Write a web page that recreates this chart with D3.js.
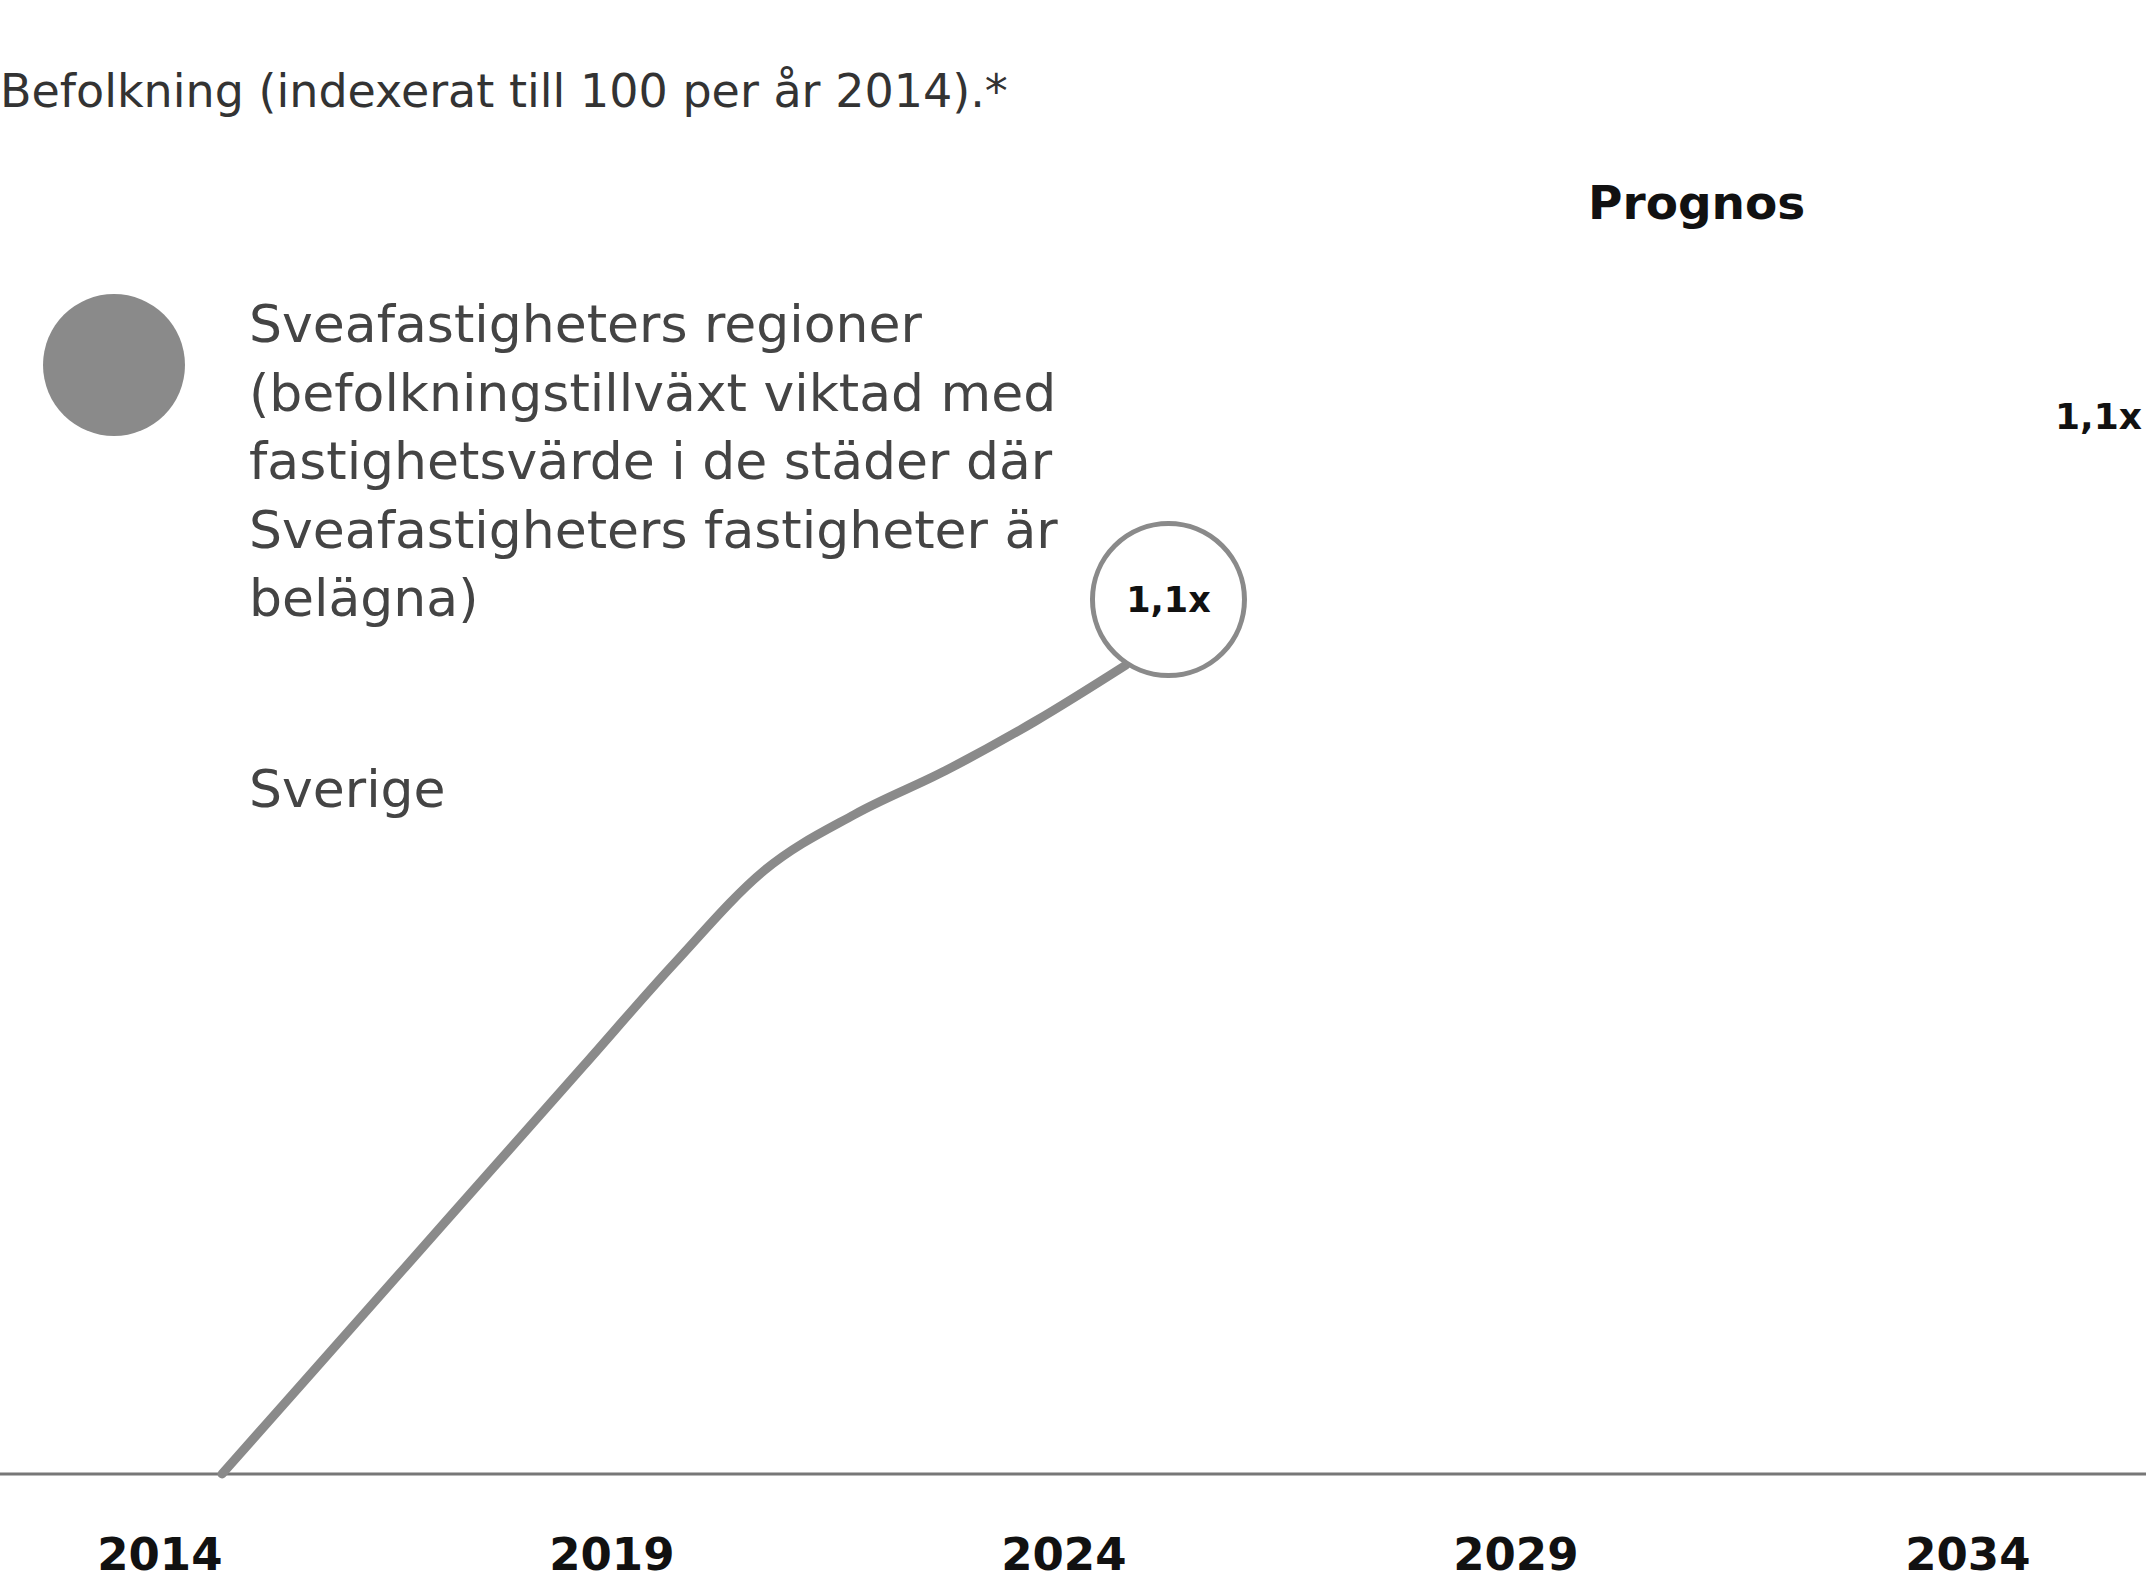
<!DOCTYPE html>
<html lang='sv'>

<head>
    <meta charset='UTF-8'/>
    <title>Befolkning indexerat till 100 per år 2014</title>
    <script src="https://cdn.jsdelivr.net/npm/d3@7"></script>
    <style>
        html,
        body {
            margin: 0;
            height: 100%;
            width: 100%;
            background: white;
        }

        svg text {
            font-family: "DejaVu Sans", sans-serif;
        }
    </style>
</head>

<body>

<div id="container"></div>

<script>
    // data
    const years = [2014, 2015, 2016, 2017, 2018, 2019, 2020, 2021, 2022, 2023, 2024]
    const regionIndex = [100, 101.64, 103.28, 104.92, 106.56, 108.2, 109.7, 110.6, 111.3, 112.1, 113.0]
    const tickYears = [2014, 2019, 2024, 2029, 2034]
    const legendLines = [
        'Sveafastigheters regioner',
        '(befolkningstillväxt viktad med',
        'fastighetsvärde i de städer där',
        'Sveafastigheters fastigheter är',
        'belägna)'
    ]
    const subtitle = 'Befolkning (indexerat till 100 per år 2014).*'
    const secondSeriesName = 'Sverige'
    const forecastLabel = 'Prognos'
    const forecastStartYear = 2029
    const multipleLabel = '1,1x'
    const forecastEndValue = 117

    const width = 2146
    const height = 1582
    const grey = '#8a8a8a'

    const x = d3.scaleLinear().domain([2014, 2034]).range([222, 2030])
    const y = d3.scaleLinear().domain([100, 113]).range([1474, 665])

    const svg = d3.select('#container')
        .append('svg')
        .attr('width', width)
        .attr('height', height)

    svg.append('text')
        .attr('x', 0)
        .attr('y', 107)
        .attr('font-size', 46)
        .attr('fill', '#333')
        .text(subtitle)

    svg.append('text')
        .attr('x', x(forecastStartYear) + 10)
        .attr('y', 219)
        .attr('font-size', 47)
        .attr('font-weight', 'bold')
        .attr('fill', '#111')
        .text(forecastLabel)

    // legend
    svg.append('circle')
        .attr('cx', 114)
        .attr('cy', 365)
        .attr('r', 71)
        .attr('fill', grey)

    svg.append('g')
        .selectAll('text')
        .data(legendLines)
        .join('text')
        .attr('x', 249)
        .attr('y', (d, i) => 342 + i * 68.5)
        .attr('font-size', 52)
        .attr('fill', '#444')
        .text(d => d)

    svg.append('text')
        .attr('x', 249)
        .attr('y', 807)
        .attr('font-size', 52)
        .attr('fill', '#444')
        .text(secondSeriesName)

    // baseline across the whole width
    svg.append('line')
        .attr('x1', 0)
        .attr('x2', width)
        .attr('y1', y(100))
        .attr('y2', y(100))
        .attr('stroke', '#777')
        .attr('stroke-width', 3)

    const axis = svg.append('g')
        .attr('transform', `translate(0,${y(100)})`)
        .call(d3.axisBottom(x).tickValues(tickYears).tickFormat(d3.format('d')).tickSize(0))

    axis.select('.domain').remove()
    axis.selectAll('text')
        .attr('y', 96)
        .attr('dy', null)
        .attr('text-anchor', 'end')
        .attr('font-size', 45)
        .attr('font-weight', 'bold')
        .attr('font-family', '"DejaVu Sans", sans-serif')
        .attr('fill', '#111')

    const points = years.map((year, i) => ({year, value: regionIndex[i]}))

    const line = d3.line()
        .x(d => x(d.year))
        .y(d => y(d.value))
        .curve(d3.curveMonotoneX)

    svg.append('path')
        .datum(points)
        .attr('d', line)
        .attr('fill', 'none')
        .attr('stroke', grey)
        .attr('stroke-width', 9)
        .attr('stroke-linecap', 'round')

    // bubble at the end of the line
    const last = points[points.length - 1]
    const badgeR = 76
    const angle = -57 * Math.PI / 180
    const bx = x(last.year) + (badgeR + 2) * Math.cos(angle)
    const by = y(last.value) + (badgeR + 2) * Math.sin(angle)

    svg.append('circle')
        .attr('cx', bx)
        .attr('cy', by)
        .attr('r', badgeR)
        .attr('fill', 'white')
        .attr('stroke', grey)
        .attr('stroke-width', 5)

    svg.append('text')
        .attr('x', bx)
        .attr('y', by)
        .attr('text-anchor', 'middle')
        .attr('dominant-baseline', 'central')
        .attr('font-size', 35)
        .attr('font-weight', 'bold')
        .attr('fill', '#111')
        .text(multipleLabel)

    // end label of the forecast at the right edge
    svg.append('text')
        .attr('x', width - 4)
        .attr('y', y(forecastEndValue))
        .attr('text-anchor', 'end')
        .attr('dominant-baseline', 'central')
        .attr('font-size', 36)
        .attr('font-weight', 'bold')
        .attr('fill', '#111')
        .text(multipleLabel)
</script>
</body>

</html>
